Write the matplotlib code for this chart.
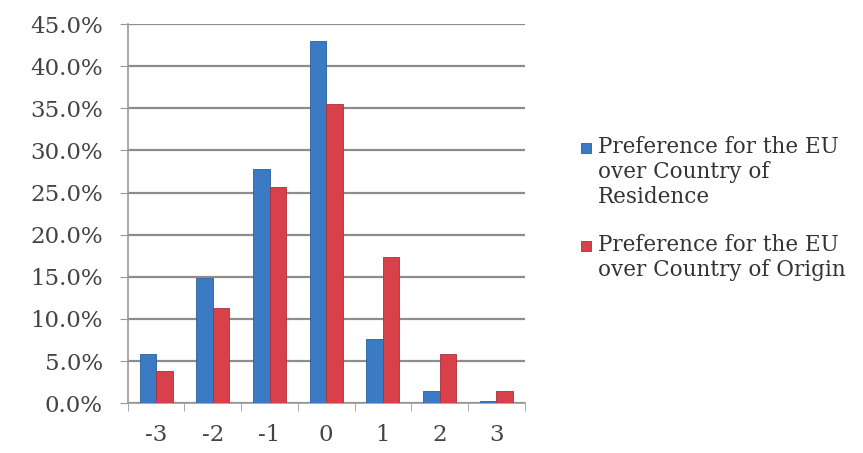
import matplotlib
matplotlib.use("Agg")
import matplotlib.pyplot as plt
import numpy as np
from matplotlib.patches import Rectangle
from matplotlib.ticker import FuncFormatter, MultipleLocator

categories = ["-3", "-2", "-1", "0", "1", "2", "3"]
residence = [5.8, 14.8, 27.8, 43.0, 7.6, 1.4, 0.2]
origin = [3.8, 11.3, 25.6, 35.5, 17.4, 5.8, 1.4]
labels = ["Preference for the EU\nover Country of\nResidence",
          "Preference for the EU\nover Country of Origin"]
colors = ["#3b7bc4", "#d8404a"]
edges = ["#2a5f9e", "#a8303a"]

plt.rcParams["font.family"] = ["DejaVu Serif"]

fig = plt.figure(figsize=(8.63, 4.53), dpi=100)
ax = fig.add_axes([0.148, 0.110, 0.46, 0.837])

x = np.arange(len(categories))
w = 0.29
ax.bar(x - w / 2, residence, w, color=colors[0], edgecolor=edges[0],
       linewidth=0.6, zorder=3)
ax.bar(x + w / 2, origin, w, color=colors[1], edgecolor=edges[1],
       linewidth=0.6, zorder=3)

ax.set_ylim(0, 45)
ax.set_xlim(-0.5, len(categories) - 0.5)
ax.yaxis.set_major_locator(MultipleLocator(5))
ax.yaxis.set_major_formatter(FuncFormatter(lambda v, p: f"{v:.1f}%"))
ax.set_xticks(x)
ax.set_xticklabels(categories)
ax.set_xticks(np.arange(-0.5, len(categories)), minor=True)
ax.tick_params(axis="x", which="major", length=0, pad=15)
ax.tick_params(axis="x", which="minor", length=6, color="#999999")
ax.tick_params(axis="y", length=6, color="#999999", pad=12)
ax.tick_params(labelsize=16.5, labelcolor="#444444")

ax.grid(axis="y", color="#8c8c8c", linewidth=1.6, zorder=0)
for s in ["top", "right"]:
    ax.spines[s].set_visible(False)
for s in ["left", "bottom"]:
    ax.spines[s].set_color("#999999")
    ax.spines[s].set_linewidth(1.2)

# legend: square key beside the first line of each wrapped label
W, H = fig.get_size_inches() * fig.dpi
for lab, c, ec, top in zip(labels, colors, edges, [148, 246]):
    fig.patches.append(Rectangle((581 / W, 1 - (top + 5) / H), 10 / W, 10 / H,
                                 facecolor=c, edgecolor=ec, linewidth=0.6,
                                 transform=fig.transFigure, figure=fig))
    fig.text(598 / W, 1 - (top - 12) / H, lab, fontsize=15.5, color="#333333",
             va="top", ha="left", linespacing=1.18)

fig.savefig("out.png", dpi=100)
